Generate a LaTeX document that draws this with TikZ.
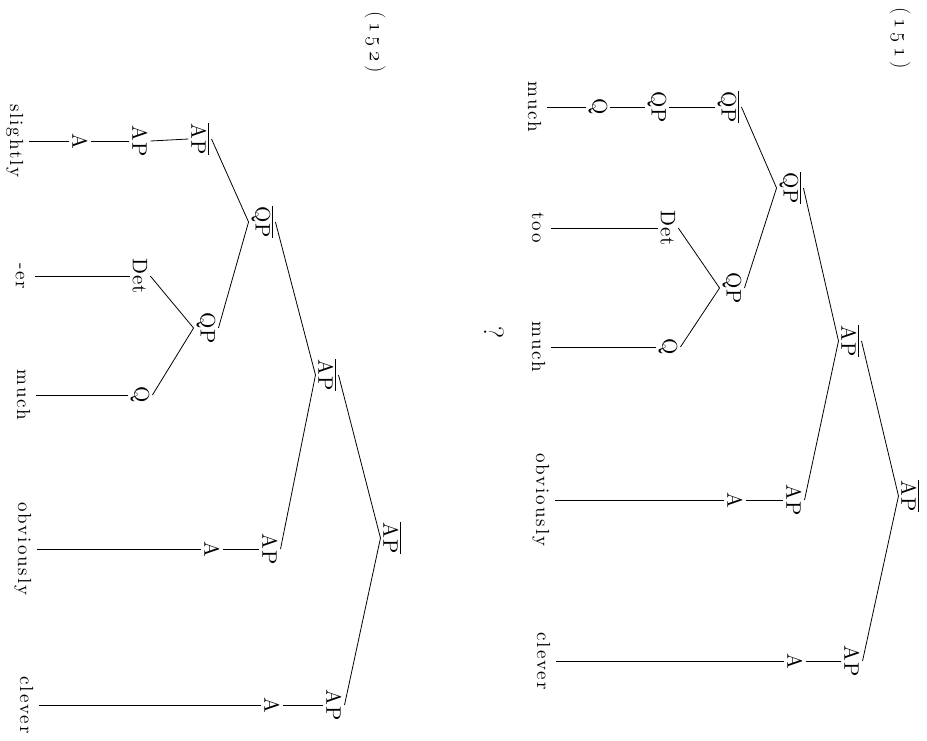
\documentclass[tikz,border=0pt]{standalone}
\usepackage{fontspec}
\newfontfamily\lmlbl{lmroman10-regular}[Extension=.otf, LetterSpace=5]
\newfontfamily\lmwrd{lmroman10-regular}[Extension=.otf, LetterSpace=10]
\tikzset{
  lbl/.style={rotate=-90, inner sep=3pt, outer sep=0pt,
    font=\lmlbl\fontsize{21}{24}\selectfont},
  wrd/.style={rotate=-90, anchor=base, inner sep=5pt, outer sep=0pt,
    text height=14pt, text depth=4pt,
    font=\lmwrd\fontsize{19}{22}\selectfont},
  numlbl/.style={rotate=-90, inner sep=0pt, font=\fontsize{21}{24}\selectfont},
  br/.style={line width=0.8pt},
}
\newcommand{\bartxt}[1]{$\overline{\hbox{#1}}$}
\begin{document}
\begin{tikzpicture}[x=1pt,y=-1pt]
\fill[white] (0,0) rectangle (927,740);
\useasboundingbox (0,0) rectangle (927,740);

% ---------------- (151) ----------------
\node[numlbl] (n151) at (900,38) {(\kern4pt$\mathnormal{1\kern4pt5\kern4pt1}$\kern4pt)};

\node[lbl] (r1)   at (910,496) {\bartxt{AP}};
\node[lbl] (a1)   at (850,341) {\bartxt{AP}};
\node[lbl] (apc1) at (852,661) {AP};
\node[lbl] (ac1)  at (795,661) {A};
\node[wrd] (wc1)  at (537,661) {clever};
\node[lbl] (apo1) at (794,500) {AP};
\node[lbl] (ao1)  at (735,500) {A};
\node[wrd] (wo1)  at (536,500) {obviously};
\node[lbl] (qb1)  at (790,188) {\bartxt{QP}};
\node[lbl] (qbt1) at (728,107) {\bartxt{QP}};
\node[lbl] (qp1)  at (732,288) {QP};
\node[lbl] (qpc1) at (657,107) {QP};
\node[lbl] (qc1)  at (598,107) {Q};
\node[wrd] (wm1)  at (528,107) {much};
\node[lbl] (det1) at (668,228) {Det};
\node[wrd] (wt1)  at (532,228) {too};
\node[lbl] (q1)   at (668,347) {Q};
\node[wrd] (wm2)  at (532,347) {much};
\node[rotate=-90, inner sep=0pt, font=\fontsize{28}{30}\selectfont] (qm) at (494,333) {?};

\draw[br] (r1.south) -- (a1.north);
\draw[br] (r1.south) -- (apc1.north);
\draw[br] (apc1.south) -- (ac1.north);
\draw[br] (ac1.south) -- (wc1.north);
\draw[br] (a1.south) -- (qb1.north);
\draw[br] (a1.south) -- (apo1.north);
\draw[br] (apo1.south) -- (ao1.north);
\draw[br] (ao1.south) -- (wo1.north);
\draw[br] (qb1.south) -- (qbt1.north);
\draw[br] (qb1.south) -- (qp1.north);
\draw[br] (qbt1.south) -- (qpc1.north);
\draw[br] (qpc1.south) -- (qc1.north);
\draw[br] (qc1.south) -- (wm1.north);
\draw[br] (qp1.south) -- (det1.north);
\draw[br] (qp1.south) -- (q1.north);
\draw[br] (det1.south) -- (wt1.north);
\draw[br] (q1.south) -- (wm2.north);

% ---------------- (152) ----------------
\node[numlbl] (n152) at (375,42) {(\kern4pt$\mathnormal{1\kern4pt5\kern4pt2}$\kern4pt)};

\node[lbl] (r2)   at (392,538) {\bartxt{AP}};
\node[lbl] (am2)  at (327,375) {\bartxt{AP}};
\node[lbl] (apc2) at (334,705) {AP};
\node[lbl] (ac2)  at (272,705) {A};
\node[wrd] (wc2)  at (20,705) {clever};
\node[lbl] (apo2) at (270,549) {AP};
\node[lbl] (ao2)  at (212,549) {A};
\node[wrd] (wo2)  at (18,549) {obviously};
\node[lbl] (qb2)  at (262,222) {\bartxt{QP}};
\node[lbl] (ab2)  at (200,139) {\bartxt{AP}};
\node[lbl] (ap2)  at (140,141) {AP};
\node[lbl] (a2)   at (80,141)  {A};
\node[wrd] (ws2)  at (10,141)  {slightly};
\node[lbl] (qp2)  at (206,328) {QP};
\node[lbl] (det2) at (140,276) {Det};
\node[wrd] (wer2) at (16,276)  {-er};
\node[lbl] (q2)   at (140,395) {Q};
\node[wrd] (wm3)  at (17,395)  {much};

\draw[br] (r2.south) -- (am2.north);
\draw[br] (r2.south) -- (apc2.north);
\draw[br] (apc2.south) -- (ac2.north);
\draw[br] (ac2.south) -- (wc2.north);
\draw[br] (am2.south) -- (qb2.north);
\draw[br] (am2.south) -- (apo2.north);
\draw[br] (apo2.south) -- (ao2.north);
\draw[br] (ao2.south) -- (wo2.north);
\draw[br] (qb2.south) -- (ab2.north);
\draw[br] (qb2.south) -- (qp2.north);
\draw[br] (ab2.south) -- (ap2.north);
\draw[br] (ap2.south) -- (a2.north);
\draw[br] (a2.south) -- (ws2.north);
\draw[br] (qp2.south) -- (det2.north);
\draw[br] (qp2.south) -- (q2.north);
\draw[br] (det2.south) -- (wer2.north);
\draw[br] (q2.south) -- (wm3.north);
\end{tikzpicture}
\end{document}
